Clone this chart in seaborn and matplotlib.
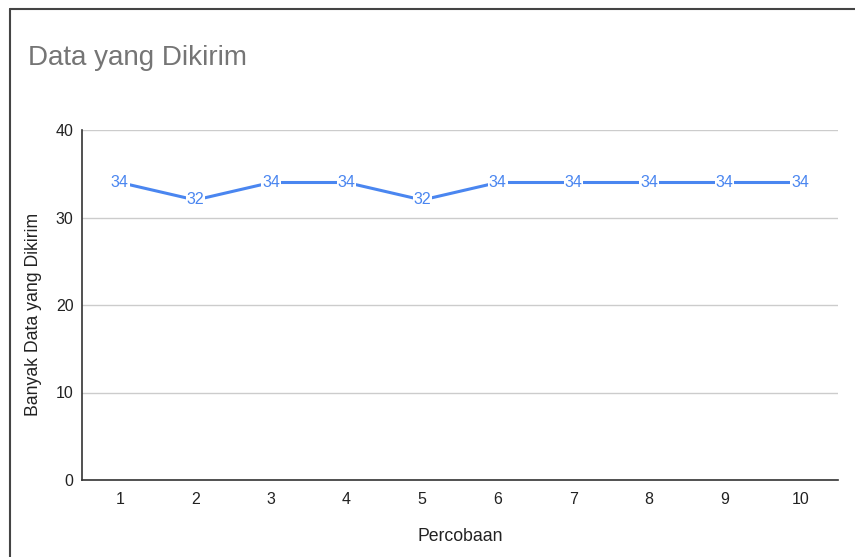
import matplotlib
matplotlib.use("Agg")
import matplotlib.pyplot as plt
import seaborn as sns
import pandas as pd
from matplotlib.lines import Line2D

percobaan = [1, 2, 3, 4, 5, 6, 7, 8, 9, 10]
data_dikirim = [34, 32, 34, 34, 32, 34, 34, 34, 34, 34]
y_ticks = [0, 10, 20, 30, 40]

df = pd.DataFrame({"Percobaan": percobaan, "Data": data_dikirim})

sns.set_theme(style="white")
plt.rcParams["font.family"] = ["Liberation Sans", "DejaVu Sans"]

fig = plt.figure(figsize=(8.55, 5.57), dpi=100)
ax = fig.add_axes([82 / 855, 1 - 480 / 557, (838 - 82) / 855, (480 - 130) / 557])

blue = "#4a86f0"
sns.lineplot(data=df, x="Percobaan", y="Data", ax=ax, color=blue, linewidth=2.2)

for x, y in zip(percobaan, data_dikirim):
    ax.text(x, y, str(y), ha="center", va="center", fontsize=11.5, color=blue,
            bbox=dict(boxstyle="square,pad=0.05", fc="white", ec="none"), zorder=5)

ax.set_xlim(0.5, 10.5)
ax.set_ylim(0, 40)
ax.set_yticks(y_ticks)
ax.set_xticks(percobaan)
ax.yaxis.grid(True, color="#cccccc", linewidth=1)
ax.set_axisbelow(True)
for s in ["top", "right"]:
    ax.spines[s].set_visible(False)
for s in ["left", "bottom"]:
    ax.spines[s].set_color("#333333")
    ax.spines[s].set_linewidth(1.2)
ax.tick_params(axis="both", length=0, labelsize=11.5, labelcolor="#222222")
ax.tick_params(axis="x", pad=9)
ax.tick_params(axis="y", pad=6)

ax.set_xlabel("Percobaan", fontsize=12.7, color="#222222", labelpad=15)
ax.set_ylabel("Banyak Data yang Dikirim", fontsize=12.7, color="#222222")
ax.yaxis.set_label_coords(-0.053, 0.474)

fig.text(28 / 855, 1 - 58 / 557, "Data yang Dikirim", fontsize=20, color="#757575",
         ha="left", va="center")

# outer frame on the top and left edges
fig.add_artist(Line2D([9.5 / 855, 9.5 / 855], [0, 1 - 8.5 / 557], transform=fig.transFigure,
                      color="#444444", linewidth=1.5))
fig.add_artist(Line2D([9.5 / 855, 1], [1 - 8.5 / 557, 1 - 8.5 / 557], transform=fig.transFigure,
                      color="#444444", linewidth=1.5))

fig.savefig("out.png", dpi=100)
